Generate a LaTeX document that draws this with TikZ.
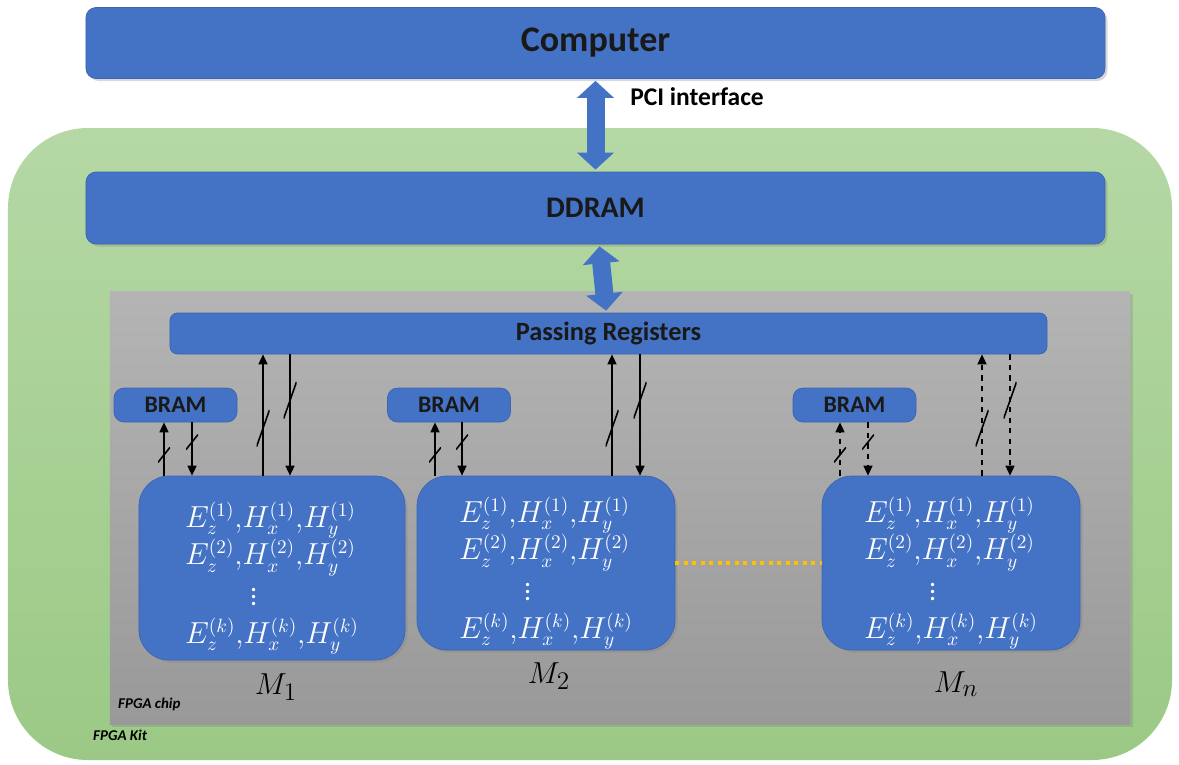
\documentclass[tikz,border=0pt]{standalone}
\usepackage[no-math]{fontspec}
\setmainfont{Carlito}
\usetikzlibrary{arrows.meta,shadows,positioning}
\definecolor{boxblue}{HTML}{4472C4}
\definecolor{edgeblue}{HTML}{3B65B2}
\definecolor{kittop}{HTML}{B5D8A5}
\definecolor{kitbot}{HTML}{9BC985}
\definecolor{chiptop}{HTML}{B4B4B4}
\definecolor{chipbot}{HTML}{999999}
\definecolor{dotyellow}{HTML}{FFC000}
\newcommand{\fieldlist}[1]{\rule{0pt}{26pt}$E_z^{(1)}{,}H_x^{(1)}{,}H_y^{(1)}$\\$E_z^{(2)}{,}H_x^{(2)}{,}H_y^{(2)}$\\\hspace*{#1}$\vdots$\\$E_z^{(k)}{,}H_x^{(k)}{,}H_y^{(k)}$}
\begin{document}
\begin{tikzpicture}[x=0.2mm,y=-0.2mm,
  blk/.style={draw=edgeblue,fill=boxblue,rounded corners=2mm,inner sep=0pt,text=black!90},
  boxshadow/.style={drop shadow={shadow xshift=0.5mm,shadow yshift=-0.5mm,opacity=0.3}},
  module/.style={blk,boxshadow,rounded corners=6mm,minimum width=51.6mm,minimum height=34.8mm,text=white,font=\fontsize{16}{21.5}\selectfont,align=left},
  bram/.style={blk,minimum width=24.6mm,minimum height=6.8mm,font=\fontsize{13.5}{15}\selectfont\bfseries},
  fat/.style={boxblue,line width=3.6mm,{Triangle[length=3.4mm,width=7.2mm]}-{Triangle[length=3.4mm,width=7.2mm]},shorten <=0.4mm,shorten >=0.4mm},
  slashmark/.style={inner sep=0pt,minimum width=2.4mm,minimum height=3mm,path picture={\draw[solid,-,line width=0.9pt] (path picture bounding box.south west) -- (path picture bounding box.north east);}},
  longslash/.style={slashmark,minimum width=2.6mm,minimum height=7.4mm},
  wire/.style={line width=0.9pt,-{Triangle[length=2mm,width=1.8mm]}},
  lbl/.style={font=\fontsize{19}{22}\selectfont}]
  \useasboundingbox (0,0) rectangle (1179,764);
  % kit, host and memory
  \node[top color=kittop,bottom color=kitbot,rounded corners=16mm,minimum width=232.8mm,minimum height=126.4mm] (kit) at (590,444) {};
  \node[blk,boxshadow,minimum width=203.8mm,minimum height=14.2mm,font=\fontsize{20.5}{24}\selectfont\bfseries] (comp) at (595.5,43) {Computer};
  \node[blk,boxshadow,minimum width=203.8mm,minimum height=14.4mm,font=\fontsize{17}{20}\selectfont\bfseries] (ddr) at (595.5,208) {DDRAM};
  \node[anchor=west,inner sep=0pt,font=\fontsize{14.5}{17}\selectfont\bfseries] (pci) at (630,97) {PCI interface};
  % chip
  \node[top color=chiptop,bottom color=chipbot,minimum width=204mm,minimum height=86.6mm,inner sep=0pt,boxshadow] (chip) at (620,507.5) {};
  \node[blk,minimum width=175.4mm,minimum height=8.2mm,rounded corners=1.5mm,font=\fontsize{15}{17}\selectfont\bfseries] (preg) at (608.5,333.5) {Passing Registers};
  \draw[fat] (comp) -- (ddr);
  \draw[fat] (ddr) -- (preg);
  \node[bram] (bram1) at (175.5,405) {BRAM};
  \node[bram] (bram2) at (449,405) {BRAM};
  \node[bram] (bramn) at (854.5,405) {BRAM};
  \node[module,minimum width=53.2mm,minimum height=36.8mm] (m1) at (272,568) {\fieldlist{13mm}};
  \node[module] (m2) at (546,563) {\fieldlist{13mm}};
  \node[module] (mn) at (951,563) {\fieldlist{13mm}};
  \draw[dotyellow,line width=0.8mm,dash pattern=on 0.8mm off 0.9mm] (m2) -- (mn);
  \foreach \m/\a/\b/\c/\d/\sty in {1/164/192/263/290/solid,2/435/462/612/640/solid,n/840/868/982/1010/dashed}{
    \draw[wire,\sty] (m\m.north -| \a,0) -- node[slashmark,pos=0.39]{} (bram\m.south -| \a,0);
    \draw[wire,\sty] (bram\m.south -| \b,0) -- node[slashmark,pos=0.37]{} (m\m.north -| \b,0);
    \draw[wire,\sty] (m\m.north -| \c,0) -- node[longslash,pos=0.39]{} (preg.south -| \c,0);
    \draw[wire,\sty] (preg.south -| \d,0) -- node[longslash,pos=0.38]{} (m\m.north -| \d,0);
  }
  \node[lbl] (l1) at (276,687) {$M_1$};
  \node[lbl] (l2) at (549,676) {$M_2$};
  \node[lbl] (ln) at (956,684) {$M_n$};
  \node[anchor=west,font=\fontsize{8.5}{10}\selectfont\bfseries\itshape] (chiplbl) at (112,704) {FPGA chip};
  \node[anchor=west,font=\fontsize{8.5}{10}\selectfont\bfseries\itshape] (kitlbl) at (87,735) {FPGA Kit};
\end{tikzpicture}
\end{document}
